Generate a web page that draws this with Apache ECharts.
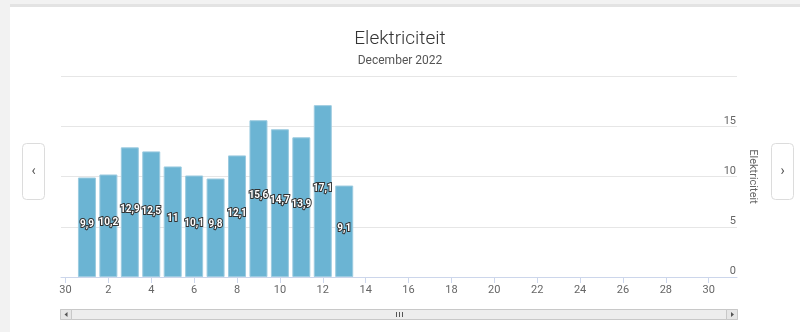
<!DOCTYPE html>
<html>
<head>
<meta charset="utf-8">
<script src="https://cdn.jsdelivr.net/npm/echarts@6/dist/echarts.min.js"></script>
<style>
  html, body { margin: 0; padding: 0; background: #f2f2f2; }
  #card { position: absolute; left: 10px; top: 4px; width: 790px; height: 325px;
          background: #ffffff; border-top: 3px solid #e3e3e3; }
  #chart { position: absolute; left: 0; top: 0; width: 800px; height: 332px; }
</style>
</head>
<body>
<div id="card"></div>
<div id="chart"></div>
<script>
// Daily electricity use, December 2022 (day 0 = 30 November)
const days = [1, 2, 3, 4, 5, 6, 7, 8, 9, 10, 11, 12, 13];
const usage = [9.9, 10.2, 12.9, 12.5, 11, 10.1, 9.8, 12.1, 15.6, 14.7, 13.9, 17.1, 9.1];
const xTicks = [0, 2, 4, 6, 8, 10, 12, 14, 16, 18, 20, 22, 24, 26, 28, 30];
const xTickLabels = ['30', '2', '4', '6', '8', '10', '12', '14', '16', '18', '20', '22', '24', '26', '28', '30'];
const yTicks = [0, 5, 10, 15, 20];

const chart = echarts.init(document.getElementById('chart'), null, { renderer: 'canvas' });

const gridL = 61, gridR = 737, gridT = 76, gridB = 277;
const font = "'Roboto', sans-serif";

const navButton = (x, glyph) => ({
  type: 'group',
  children: [
    { type: 'rect', shape: { x: x + 0.5, y: 143.5, width: 22, height: 56, r: 4 },
      style: { fill: '#ffffff', stroke: '#dcdcdc', lineWidth: 1 } },
    { type: 'text', x: x + 11.5, y: 171,
      style: { text: glyph, fill: '#555555', font: '14px ' + font, align: 'center', verticalAlign: 'middle' } }
  ]
});

const sbY = 309, sbH = 10;
const scrollbar = {
  type: 'group',
  children: [
    { type: 'rect', shape: { x: gridL - 0.5, y: sbY + 0.5, width: gridR - gridL + 1, height: sbH },
      style: { fill: '#ededed', stroke: '#c8c8c8', lineWidth: 1 } },
    { type: 'rect', shape: { x: gridL - 0.5, y: sbY + 0.5, width: 11, height: sbH },
      style: { fill: '#e6e6e6', stroke: '#c8c8c8', lineWidth: 1 } },
    { type: 'rect', shape: { x: gridR - 10.5, y: sbY + 0.5, width: 11, height: sbH },
      style: { fill: '#e6e6e6', stroke: '#c8c8c8', lineWidth: 1 } },
    { type: 'polygon', shape: { points: [[gridL + 6.5, sbY + 3], [gridL + 6.5, sbY + 8], [gridL + 3.5, sbY + 5.5]] },
      style: { fill: '#555555' } },
    { type: 'polygon', shape: { points: [[gridR - 6, sbY + 3], [gridR - 6, sbY + 8], [gridR - 3, sbY + 5.5]] },
      style: { fill: '#555555' } },
    { type: 'rect', shape: { x: 396, y: sbY + 3, width: 1, height: 5 }, style: { fill: '#555555' } },
    { type: 'rect', shape: { x: 399, y: sbY + 3, width: 1, height: 5 }, style: { fill: '#555555' } },
    { type: 'rect', shape: { x: 402, y: sbY + 3, width: 1, height: 5 }, style: { fill: '#555555' } }
  ]
};

chart.setOption({
  animation: false,
  backgroundColor: 'transparent',
  title: {
    text: 'Elektriciteit',
    subtext: 'December 2022',
    left: 'center',
    top: 25,
    itemGap: 6,
    textStyle: { fontFamily: 'Roboto', fontWeight: 300, fontSize: 19, color: '#333333' },
    subtextStyle: { fontFamily: 'Roboto', fontSize: 12, color: '#555555' }
  },
  grid: { left: gridL, right: 800 - gridR, top: gridT, bottom: 332 - gridB, containLabel: false },
  xAxis: {
    type: 'value',
    min: -0.21,
    max: 31.32,
    splitLine: { show: false },
    axisLine: { show: true, lineStyle: { color: '#ccd6eb' } },
    axisTick: { show: true, length: 6, customValues: xTicks, lineStyle: { color: '#ccd6eb' } },
    axisLabel: {
      customValues: xTicks,
      margin: 8,
      color: '#666666',
      fontSize: 11,
      fontFamily: font,
      formatter: v => xTickLabels[xTicks.indexOf(v)]
    }
  },
  yAxis: {
    type: 'value',
    position: 'right',
    min: yTicks[0],
    max: yTicks[yTicks.length - 1],
    interval: 5,
    name: 'Elektriciteit',
    nameLocation: 'middle',
    nameRotate: -90,
    nameGap: 6,
    nameTextStyle: { color: '#666666', fontSize: 11, fontFamily: font },
    axisLine: { show: false },
    axisTick: { show: false },
    splitLine: { lineStyle: { color: '#e6e6e6' } },
    axisLabel: {
      inside: true,
      margin: 1,
      verticalAlign: 'bottom',
      showMaxLabel: false,
      color: '#666666',
      fontSize: 11,
      fontFamily: font
    }
  },
  series: [{
    type: 'bar',
    data: days.map((d, i) => [d, usage[i]]),
    barWidth: 18,
    itemStyle: { color: '#6bb4d3', borderColor: '#9ccbe0', borderWidth: 1 },
    label: {
      show: true,
      position: 'inside',
      offset: [0, -3],
      color: '#ffffff',
      fontWeight: 'bold',
      fontSize: 10,
      fontFamily: font,
      textBorderColor: '#333333',
      textBorderWidth: 2,
      formatter: p => String(p.value[1]).replace('.', ',')
    }
  }],
  graphic: [navButton(22, '‹'), navButton(771, '›'), scrollbar]
});
</script>
</body>
</html>
